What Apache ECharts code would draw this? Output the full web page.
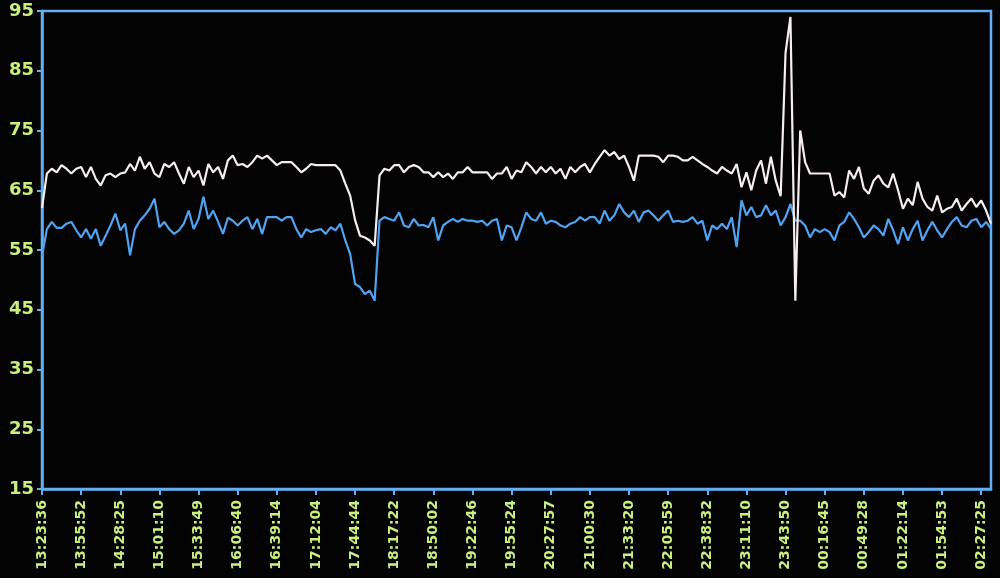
<!DOCTYPE html>
<html>
<head>
<meta charset="utf-8">
<script src="https://cdn.jsdelivr.net/npm/echarts@6/dist/echarts.min.js"></script>
<style>
html,body{margin:0;padding:0;background:#030303;}
#c{width:1000px;height:578px;}
</style>
</head>
<body>
<div id="c"></div>
<script>
const tickLabels = ['13:23:36','13:55:52','14:28:25','15:01:10','15:33:49','16:06:40','16:39:14','17:12:04','17:44:44','18:17:22','18:50:02','19:22:46','19:55:24','20:27:57','21:00:30','21:33:20','22:05:59','22:38:32','23:11:10','23:43:50','00:16:45','00:49:28','01:22:14','01:54:53','02:27:25'];
const pointsPerTick = 8;

const whiteSeries = [
62.0,67.8,68.6,68.0,69.2,68.6,67.8,68.6,68.9,67.2,
68.9,66.9,65.8,67.5,67.8,67.2,67.8,68.0,69.4,68.3,
70.6,68.6,69.7,67.8,67.2,69.4,68.9,69.7,67.8,66.1,
68.9,67.2,68.3,65.8,69.4,68.0,68.9,66.9,70.0,70.8,
69.2,69.4,68.9,69.7,70.8,70.3,70.8,70.0,69.2,69.7,
69.7,69.7,68.9,68.0,68.6,69.4,69.2,69.2,69.2,69.2,
69.2,68.3,66.1,64.1,60.0,57.4,57.1,56.6,55.7,67.5,
68.6,68.3,69.2,69.2,68.0,68.9,69.2,68.9,68.0,68.0,
67.2,68.0,67.2,67.8,66.9,68.0,68.0,68.9,68.0,68.0,
68.0,68.0,66.9,67.8,67.8,68.9,66.9,68.3,68.0,69.7,
68.9,67.8,68.9,68.0,68.9,67.8,68.6,66.9,68.9,68.0,
68.9,69.4,68.0,69.4,70.6,71.7,70.8,71.4,70.2,70.8,
68.9,66.6,70.8,70.8,70.8,70.8,70.6,69.7,70.8,70.8,
70.6,70.0,70.0,70.6,70.0,69.4,68.9,68.3,67.8,68.9,
68.3,67.8,69.4,65.5,68.0,65.0,68.3,70.0,66.1,70.6,
66.6,64.0,88.0,94.0,46.5,75.0,69.7,67.8,67.8,67.8,
67.8,67.8,64.1,64.7,63.8,68.3,66.9,68.9,65.3,64.4,
66.6,67.5,66.1,65.5,67.8,65.0,61.9,63.6,62.5,66.4,
63.6,62.2,61.6,64.1,61.3,61.9,62.2,63.6,61.6,62.7,
63.6,62.2,63.3,61.6,59.4
];

const blueSeries = [
54.0,58.5,59.7,58.7,58.7,59.4,59.7,58.3,57.1,58.5,
56.9,58.5,55.7,57.4,59.1,61.1,58.3,59.4,54.1,58.5,
59.9,60.8,61.9,63.6,58.8,59.7,58.5,57.7,58.3,59.4,
61.6,58.5,60.2,63.9,60.2,61.6,59.7,57.7,60.4,59.9,
59.1,59.9,60.5,58.5,60.2,57.7,60.5,60.5,60.5,59.9,
60.5,60.5,58.5,57.1,58.5,58.0,58.3,58.5,57.7,58.8,
58.3,59.4,56.6,54.3,49.3,48.8,47.6,48.2,46.5,59.9,
60.5,60.2,59.9,61.3,59.1,58.8,60.2,59.1,59.2,58.8,
60.5,56.6,59.1,59.7,60.2,59.7,60.2,59.9,59.9,59.7,
59.9,59.1,59.9,60.2,56.6,59.1,58.8,56.6,58.8,61.3,
60.2,59.9,61.3,59.4,59.9,59.7,59.1,58.8,59.4,59.7,
60.5,59.9,60.5,60.5,59.4,61.6,59.9,60.8,62.7,61.3,
60.5,61.6,59.7,61.3,61.6,60.8,59.9,60.8,61.6,59.7,
59.9,59.7,59.9,60.5,59.4,59.9,56.6,59.1,58.5,59.4,
58.5,60.5,55.5,63.3,60.8,62.2,60.5,60.8,62.5,60.8,
61.6,59.1,60.5,62.7,59.9,59.9,59.1,57.1,58.5,58.0,
58.5,58.0,56.6,59.1,59.7,61.3,60.2,58.8,57.1,58.0,
59.1,58.5,57.4,60.2,58.3,56.0,58.8,56.6,58.5,59.9,
56.6,58.3,59.7,58.3,57.1,58.5,59.7,60.5,59.1,58.8,
59.9,60.2,58.8,59.7,58.5
];

const categories = whiteSeries.map((_, i) => String(i));
const isTick = (idx) => idx % pointsPerTick === 0 && idx / pointsPerTick < tickLabels.length;

const frameBlue = '#62aef2';
const labelGreen = '#c9ef7e';

const chart = echarts.init(document.getElementById('c'));
chart.setOption({
  backgroundColor: '#030303',
  animation: false,
  grid: {
    left: 42, right: 9, top: 11, bottom: 89,
    show: true, borderColor: frameBlue, borderWidth: 2.5, backgroundColor: 'transparent'
  },
  xAxis: {
    type: 'category',
    data: categories,
    boundaryGap: false,
    axisLine: { show: true, lineStyle: { color: frameBlue, width: 2.5 } },
    axisTick: { show: true, interval: (idx) => isTick(idx), length: 6, lineStyle: { color: frameBlue, width: 2 } },
    axisLabel: {
      interval: (idx) => isTick(idx),
      formatter: (v, idx) => isTick(idx) ? tickLabels[idx / pointsPerTick] : '',
      rotate: 90,
      color: labelGreen,
      fontSize: 14,
      fontWeight: 'bold',
      fontFamily: 'DejaVu Sans',
      margin: 11
    },
    splitLine: { show: false }
  },
  yAxis: {
    type: 'value',
    min: 15, max: 95, interval: 10,
    axisLine: { show: true, lineStyle: { color: frameBlue, width: 2.5 } },
    axisTick: { show: true, length: 5, lineStyle: { color: frameBlue, width: 2 } },
    axisLabel: { color: labelGreen, fontSize: 18, fontWeight: 'bold', fontFamily: 'DejaVu Sans', margin: 8 },
    splitLine: { show: false }
  },
  series: [
    {
      type: 'line', data: whiteSeries, showSymbol: false, symbol: 'none',
      lineStyle: { color: '#f6eeee', width: 2.2 }, z: 3
    },
    {
      type: 'line', data: blueSeries, showSymbol: false, symbol: 'none',
      lineStyle: { color: '#4fa3f2', width: 2.2 }, z: 2
    }
  ]
});
</script>
</body>
</html>
